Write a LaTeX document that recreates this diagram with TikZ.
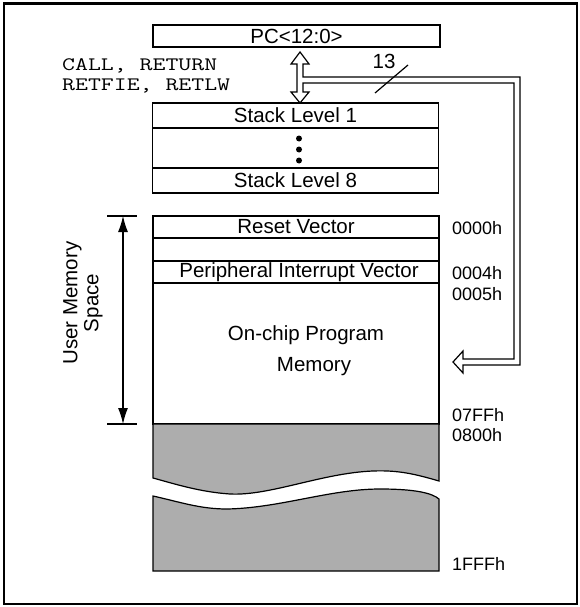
\documentclass[tikz,border=0pt]{standalone}
\usepackage{fontspec}
\setmainfont{Liberation Sans}
\usetikzlibrary{arrows.meta}
\begin{document}
\begin{tikzpicture}[x=1pt,y=-1pt,
  box/.style={draw,line width=1.2pt,inner sep=0pt,minimum width=286pt,font=\fontsize{20.5}{22}\selectfont},
  addr/.style={anchor=west,inner sep=0pt,font=\fontsize{18}{20}\selectfont},
  lbl/.style={inner sep=0pt,font=\fontsize{20.5}{22}\selectfont},
  mono/.style={anchor=west,inner sep=0pt,font=\ttfamily\fontsize{19}{20}\selectfont},
  grayfill/.style={draw,line width=1.2pt,fill=black!32}]
\useasboundingbox (0,0) rectangle (579,607);
\draw[line width=2.4pt] (4,3.5) rectangle (577,604);

% PC box
\node[box,minimum width=287pt,minimum height=22pt] (pc) at (296.5,36) {PC<12:0>};

% stack
\node[box,minimum height=25pt] (s1) at (295.5,115.5) {Stack Level 1};
\node[box,minimum height=40pt] (sd) at (295.5,148) {};
\node[box,minimum height=25pt] (s8) at (295.5,180.5) {Stack Level 8};
\foreach \yy in {138.5,149.5,160.5} \fill (299,\yy) circle (3pt);

% instructions
\node[mono] (call) at (62,66) {\scalebox{1.32}[1]{CALL, RETURN}};
\node[mono] (retfie) at (62,86) {\scalebox{1.32}[1]{RETFIE, RETLW}};

% double arrow + bus
\draw[line width=1.2pt,fill=white,line join=miter]
 (300,52) -- (309,64) -- (303,64) -- (303,77) -- (520,77) -- (520,365) -- (463,365)
 -- (463,373) -- (453,362) -- (463,351) -- (463,359) -- (514,359) -- (514,83)
 -- (303,83) -- (303,92) -- (309,92) -- (300,103) -- (291,92) -- (297,92)
 -- (297,64) -- (291,64) -- cycle;
\coordinate (sla) at (375,93);
\coordinate (slb) at (408,65);
\draw[line width=1.2pt] (sla) -- (slb);
\node[lbl] (n13) at (384,61) {13};

% memory
\node[box,minimum height=22pt] (rv) at (296,227) {Reset Vector};
\node[box,minimum height=23pt] (blank) at (296,249.5) {};
\node[box,minimum height=22pt] (piv) at (296,272) {};
\node[lbl] (pivt) at (299,272) {Peripheral Interrupt Vector};
\node[box,minimum height=141pt] (mem) at (296,353.5) {};
\node[lbl] (onchip) at (306,335) {On-chip Program};
\node[lbl] (memt) at (314,367) {Memory};

% gray areas
\draw[grayfill] (153,424) -- (439,424) -- (439,481)
  .. controls (415,474) and (398,470) .. (373,471)
  .. controls (322,473) and (270,496) .. (230,494)
  .. controls (200,492) and (175,484) .. (153,478) -- cycle;
\draw[grayfill] (153,496)
  .. controls (180,502) and (200,509) .. (227,509)
  .. controls (280,508) and (330,489) .. (380,489)
  .. controls (415,489) and (432,493) .. (439,499)
  -- (439,571) -- (153,571) -- cycle;

% dimension
\coordinate (dt) at (123,216);
\coordinate (db) at (123,424);
\draw[line width=1.2pt] (107,216) -- (137,216);
\draw[line width=1.2pt] (107,424) -- (137,424);
\draw[line width=1.2pt,{Latex[length=16pt,width=10pt]}-{Latex[length=16pt,width=10pt]}] (dt) -- (db);
\node[lbl,rotate=90,align=center,font=\fontsize{20.5}{21}\selectfont] (ums) at (83,303) {User Memory\\Space};

% addresses
\node[addr] (a0) at (452,228) {0000h};
\node[addr] (a4) at (452,273) {0004h};
\node[addr] (a5) at (452,294) {0005h};
\node[addr] (a7) at (452,415) {07FFh};
\node[addr] (a8) at (452,435) {0800h};
\node[addr] (a1) at (452,564) {1FFFh};
\end{tikzpicture}
\end{document}
